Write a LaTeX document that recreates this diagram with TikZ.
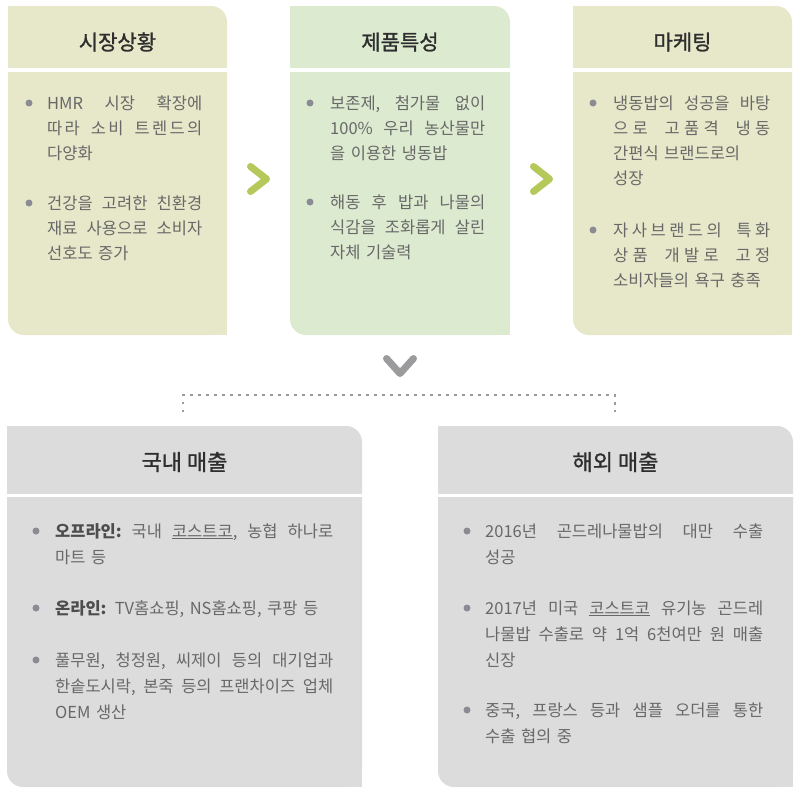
\documentclass[tikz,border=0pt]{standalone}
\usepackage{fontspec}
\usetikzlibrary{calc}
\newfontfamily\kr{Noto Sans CJK KR}
\newfontfamily\krh[FakeBold=1.2]{Noto Sans CJK KR}
\definecolor{beigec}{HTML}{E7E8C9}
\definecolor{greenc}{HTML}{DCEBD0}
\definecolor{grayc}{HTML}{DCDCDD}
\definecolor{chevg}{HTML}{B5C95A}
\definecolor{chevd}{HTML}{9B9B9D}
\definecolor{bulc}{HTML}{8B8B93}
\definecolor{bodyc}{HTML}{686868}
\definecolor{headc}{HTML}{2E2E2E}
\definecolor{dotc}{HTML}{9A9A9C}
\newcommand\jline[1]{\makebox[\linewidth][s]{\frenchspacing\spaceskip=0.27em plus 1fill\relax #1}}
\newcommand\gl{\hspace{0pt plus 0.35fill}}
\tikzset{
  panel/.style={rectangle, inner sep=0pt, outer sep=0pt, rounded corners=16pt},
  toppanel/.style={panel, minimum width=219pt, minimum height=329pt},
  botpanel/.style={panel, minimum width=355pt, minimum height=361pt},
  sepline/.style={white, line width=4pt},
  headtxt/.style={font=\krh\fontsize{21}{24}\selectfont, text=headc, inner sep=0pt},
  bodytop/.style={font=\kr\fontsize{16.5}{25}\selectfont, text=bodyc, inner sep=0pt, anchor=base west, text width=155pt},
  bodybot/.style={font=\kr\fontsize{16.5}{26}\selectfont, text=bodyc, inner sep=0pt, anchor=base west, text width=278pt},
  bul/.style={circle, fill=bulc, inner sep=0pt, minimum size=7pt},
  chev/.style={line width=7pt, line cap=round, line join=round},
  dotline/.style={dotc, line width=2.5pt, dash pattern=on 2.5pt off 5.5pt}
}
\begin{document}
\begin{tikzpicture}[x=1pt, y=-1pt]
\useasboundingbox[fill=white] (0,0) rectangle (800,793);

% ---------- top panels ----------
\node[toppanel, fill=beigec] (b1) at (117.5,170.5) {};
\node[toppanel, fill=greenc, minimum width=220pt] (b2) at (400,170.5) {};
\node[toppanel, fill=beigec] (b3) at (682.5,170.5) {};
\foreach \b/\c in {b1/beigec, b2/greenc, b3/beigec}{
  \fill[\c] (\b.north west) rectangle ++(20,20);
  \fill[\c] (\b.south east) rectangle ++(-20,-20);
  \draw[sepline] (\b.west |- 0,70) -- (\b.east |- 0,70);
}
\node[headtxt] (h1) at (117.5,42) {시장상황};
\node[headtxt] (h2) at (400,42) {제품특성};
\node[headtxt] (h3) at (682.5,42) {마케팅};

% panel 1
\node[bul] (d11) at (29,103) {};
\node[bodytop] (t11) at (47,109) {\jline{HMR 시장 확장에}\\ \jline{따\gl 라 소\gl 비 트\gl 렌\gl 드\gl 의}\\ 다양화};
\node[bul] (d12) at (29,203) {};
\node[bodytop] (t12) at (47,209) {\jline{건강을 고려한 친환경}\\ \jline{재료 사용으로 소비자}\\ 선호도 증가};
% panel 2
\node[bul] (d21) at (310,103) {};
\node[bodytop] (t21) at (330,109) {\jline{보존제, 첨가물 없이}\\ \jline{100\% 우리 농산물만}\\ 을 이용한 냉동밥};
\node[bul] (d22) at (310,202) {};
\node[bodytop] (t22) at (330,208) {\jline{해동 후 밥과 나물의}\\ \jline{식감을 조화롭게 살린}\\ 자체 기술력};
% panel 3
\node[bul] (d31) at (593,103) {};
\node[bodytop, text width=157pt] (t31) at (613,109) {\jline{냉동밥의 성공을 바탕}\\ \jline{으\gl 로 고\gl 품\gl 격 냉\gl 동}\\ 간편식 브랜드로의\\ 성장};
\node[bul] (d32) at (593,230) {};
\node[bodytop, text width=157pt] (t32) at (613,236) {\jline{자\gl 사\gl 브\gl 랜\gl 드\gl 의 특\gl 화}\\ \jline{상\gl 품 개\gl 발\gl 로 고\gl 정}\\ 소비자들의 욕구 충족};

% chevrons between panels
\coordinate (m1) at ($(b1.east)!0.5!(b2.west)$);
\coordinate (m2) at ($(b2.east)!0.5!(b3.west)$);
\draw[chev, chevg] (m1 |- 0,179) ++(-8,-12.5) -- ++(16,12.5) -- ++(-16,12.5);
\draw[chev, chevg] (m2 |- 0,179) ++(-8,-12.5) -- ++(16,12.5) -- ++(-16,12.5);
\draw[chev, chevd] (b2.south |- 0,366) ++(-13.5,-7.5) -- ++(13.5,15) -- ++(13.5,-15);

% dotted bracket
\coordinate (ql) at (183,412);
\coordinate (qtl) at (183,395);
\coordinate (qtr) at (615,395);
\coordinate (qr) at (615,412);
\draw[dotline] (ql) -- (qtl) -- (qtr) -- (qr);

% ---------- bottom panels ----------
\node[botpanel, fill=grayc] (c1) at (184.5,606.5) {};
\node[botpanel, fill=grayc] (c2) at (615.5,606.5) {};
\foreach \b in {c1, c2}{
  \fill[grayc] (\b.north west) rectangle ++(20,20);
  \fill[grayc] (\b.south east) rectangle ++(-20,-20);
  \draw[sepline, line width=3.5pt] (\b.west |- 0,495.5) -- (\b.east |- 0,495.5);
}
\node[headtxt, font=\krh\fontsize{22}{24}\selectfont] (h4) at (184.5,462) {국내 매출};
\node[headtxt, font=\krh\fontsize{22}{24}\selectfont] (h5) at (615.5,462) {해외 매출};

\node[bul] (e11) at (36,531) {};
\node[bodybot] (u11) at (55,537) {\jline{\textbf{\color{headc!85}오프라인:} 국내 \underline{코스트코}, 농협 하나로}\\ 마트 등};
\node[bul] (e12) at (36,608) {};
\node[bodybot] (u12) at (55,614) {\textbf{\color{headc!85}온라인:} TV홈쇼핑, NS홈쇼핑, 쿠팡 등};
\node[bul] (e13) at (36,660) {};
\node[bodybot] (u13) at (55,666) {\jline{풀무원, 청정원, 씨제이 등의 대기업과}\\ \jline{한솥도시락, 본죽 등의 프랜차이즈 업체}\\ OEM 생산};

\node[bul] (e21) at (467,531) {};
\node[bodybot] (u21) at (485,537) {\jline{2016년 곤드레나물밥의 대만 수출}\\ 성공};
\node[bul] (e22) at (467,608) {};
\node[bodybot] (u22) at (485,614) {\jline{2017년 미국 \underline{코스트코} 유기농 곤드레}\\ \jline{나물밥 수출로 약 1억 6천여만 원 매출}\\ 신장};
\node[bul] (e23) at (467,710) {};
\node[bodybot] (u23) at (485,716) {\jline{중국, 프랑스 등과 샘플 오더를 통한}\\ 수출 협의 중};
\end{tikzpicture}
\end{document}
